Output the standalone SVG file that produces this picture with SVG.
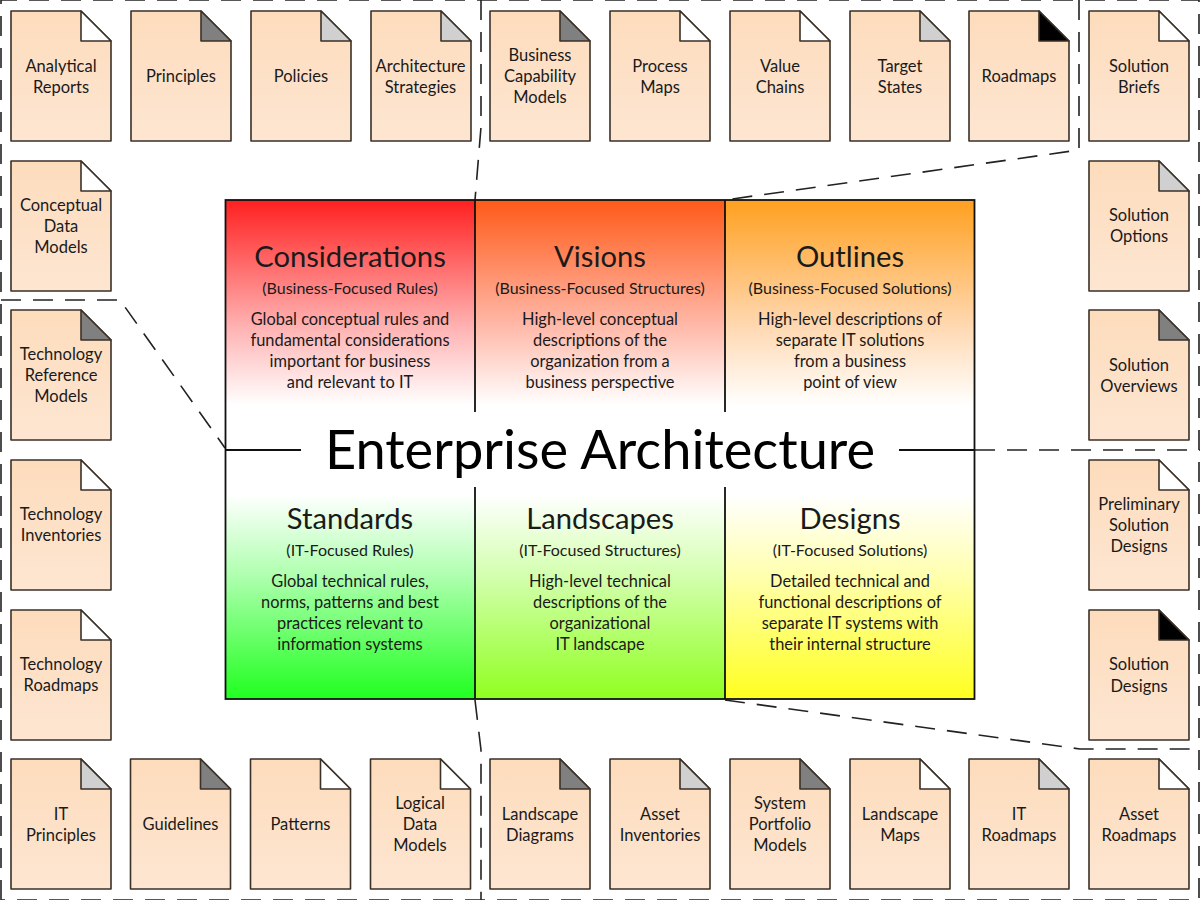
<svg xmlns="http://www.w3.org/2000/svg" width="1200" height="900" viewBox="0 0 1200 900">
<style>
text{font-family:"Lato","Noto Sans","Liberation Sans",sans-serif;fill:#1a1a1a;text-anchor:middle;transform:translateY(.7px)}
.l{font-size:16.5px}
.h{font-size:29.2px}
.u{font-size:16px}
.s{font-size:16.4px}
.t{font-size:54.2px;fill:#000}
.b{fill:url(#doc);stroke:#3a3128;stroke-width:1.6;stroke-linejoin:round}
.f{stroke:#3a3128;stroke-width:1.6;stroke-linejoin:round}
.w{fill:#fff}.g{fill:#808080}.c{fill:#d0d0d0}.k{fill:#000}
.d{fill:none;stroke:#222;stroke-width:1.6;stroke-dasharray:20 12}
.m{fill:none;stroke:#111;stroke-width:1.8}
</style>
<defs>
<linearGradient id="doc" x1="0" y1="0" x2="0" y2="1"><stop offset="0" stop-color="#fddcbc"/><stop offset="1" stop-color="#fde6d2"/></linearGradient>
<linearGradient id="r" x1="0" y1="0" x2="0" y2="1"><stop offset="0" stop-color="#ff2020"/><stop offset="0.5" stop-color="#ffb0b0"/><stop offset="0.82" stop-color="#fff"/></linearGradient>
<linearGradient id="o" x1="0" y1="0" x2="0" y2="1"><stop offset="0" stop-color="#ff5a18"/><stop offset="0.5" stop-color="#ffb8a8"/><stop offset="0.82" stop-color="#fff"/></linearGradient>
<linearGradient id="a" x1="0" y1="0" x2="0" y2="1"><stop offset="0" stop-color="#ffa020"/><stop offset="0.5" stop-color="#ffd8b0"/><stop offset="0.82" stop-color="#fff"/></linearGradient>
<linearGradient id="gn" x1="0" y1="0" x2="0" y2="1"><stop offset="0.18" stop-color="#fff"/><stop offset="0.5" stop-color="#b0ffb0"/><stop offset="1" stop-color="#20ff20"/></linearGradient>
<linearGradient id="lm" x1="0" y1="0" x2="0" y2="1"><stop offset="0.18" stop-color="#fff"/><stop offset="0.5" stop-color="#d4ffb0"/><stop offset="1" stop-color="#90ff20"/></linearGradient>
<linearGradient id="y" x1="0" y1="0" x2="0" y2="1"><stop offset="0.18" stop-color="#fff"/><stop offset="0.5" stop-color="#ffffb0"/><stop offset="1" stop-color="#ffff20"/></linearGradient>
<path id="dp" class="b" d="M0 0H70L100 30V130H0Z"/>
</defs>
<g id="connectors">
<path class="d" d="M1 900V0H1199V900H1Z"/>
<path class="d" d="M481 0V127L475 200"/>
<path class="d" d="M1079 0V150L725 200"/>
<path class="d" d="M1 300H120L225 448"/>
<path class="d" d="M975 450H1200"/>
<path class="d" d="M725 700L1080 749H1200"/>
<path class="d" d="M475 700L481 750V900"/>
</g>
<g id="matrix">
<rect x="226" y="200" width="249" height="250" fill="url(#r)"/>
<rect x="475" y="200" width="250" height="250" fill="url(#o)"/>
<rect x="725" y="200" width="249" height="250" fill="url(#a)"/>
<rect x="226" y="450" width="249" height="249" fill="url(#gn)"/>
<rect x="475" y="450" width="250" height="249" fill="url(#lm)"/>
<rect x="725" y="450" width="249" height="249" fill="url(#y)"/>
<rect class="m" x="225.500" y="200" width="749" height="499"/>
<path class="m" d="M475 200V412M725 200V412M475 487V699M725 487V699M226 450H301M899 450H975"/>
<text class="t" x="600" y="468">Enterprise Architecture</text>
</g>
<g id="cell-considerations"><text class="h" x="350" y="266">Considerations</text><text class="u" x="350" y="293">(Business-Focused Rules)</text><text class="s" x="350" y="324">Global conceptual rules and</text><text class="s" x="350" y="345">fundamental considerations</text><text class="s" x="350" y="366">important for business</text><text class="s" x="350" y="387">and relevant to IT</text></g>
<g id="cell-visions"><text class="h" x="600" y="266">Visions</text><text class="u" x="600" y="293">(Business-Focused Structures)</text><text class="s" x="600" y="324">High-level conceptual</text><text class="s" x="600" y="345">descriptions of the</text><text class="s" x="600" y="366">organization from a</text><text class="s" x="600" y="387">business perspective</text></g>
<g id="cell-outlines"><text class="h" x="850" y="266">Outlines</text><text class="u" x="850" y="293">(Business-Focused Solutions)</text><text class="s" x="850" y="324">High-level descriptions of</text><text class="s" x="850" y="345">separate IT solutions</text><text class="s" x="850" y="366">from a business</text><text class="s" x="850" y="387">point of view</text></g>
<g id="cell-standards"><text class="h" x="350" y="528">Standards</text><text class="u" x="350" y="555">(IT-Focused Rules)</text><text class="s" x="350" y="586">Global technical rules,</text><text class="s" x="350" y="607">norms, patterns and best</text><text class="s" x="350" y="628">practices relevant to</text><text class="s" x="350" y="649">information systems</text></g>
<g id="cell-landscapes"><text class="h" x="600" y="528">Landscapes</text><text class="u" x="600" y="555">(IT-Focused Structures)</text><text class="s" x="600" y="586">High-level technical</text><text class="s" x="600" y="607">descriptions of the</text><text class="s" x="600" y="628">organizational</text><text class="s" x="600" y="649">IT landscape</text></g>
<g id="cell-designs"><text class="h" x="850" y="528">Designs</text><text class="u" x="850" y="555">(IT-Focused Solutions)</text><text class="s" x="850" y="586">Detailed technical and</text><text class="s" x="850" y="607">functional descriptions of</text><text class="s" x="850" y="628">separate IT systems with</text><text class="s" x="850" y="649">their internal structure</text></g>
<g id="n01" transform="translate(11,11)"><use href="#dp"/><path class="f w" d="M70 0V30H100Z"/><text class="l" x="50" y="60">Analytical</text><text class="l" x="50" y="81">Reports</text></g>
<g id="n02" transform="translate(131,11)"><use href="#dp"/><path class="f g" d="M70 0V30H100Z"/><text class="l" x="50" y="70">Principles</text></g>
<g id="n03" transform="translate(251,11)"><use href="#dp"/><path class="f c" d="M70 0V30H100Z"/><text class="l" x="50" y="70">Policies</text></g>
<g id="n04" transform="translate(371,11)"><use href="#dp"/><path class="f c" d="M70 0V30H100Z"/><text class="l" x="49.500" y="60">Architecture</text><text class="l" x="49.500" y="81">Strategies</text></g>
<g id="n05" transform="translate(490,11)"><use href="#dp"/><path class="f g" d="M70 0V30H100Z"/><text class="l" x="50" y="49">Business</text><text class="l" x="50" y="70">Capability</text><text class="l" x="50" y="91">Models</text></g>
<g id="n06" transform="translate(610,11)"><use href="#dp"/><path class="f w" d="M70 0V30H100Z"/><text class="l" x="50" y="60">Process</text><text class="l" x="50" y="81">Maps</text></g>
<g id="n07" transform="translate(730,11)"><use href="#dp"/><path class="f w" d="M70 0V30H100Z"/><text class="l" x="50" y="60">Value</text><text class="l" x="50" y="81">Chains</text></g>
<g id="n08" transform="translate(850,11)"><use href="#dp"/><path class="f c" d="M70 0V30H100Z"/><text class="l" x="50" y="60">Target</text><text class="l" x="50" y="81">States</text></g>
<g id="n09" transform="translate(969,11)"><use href="#dp"/><path class="f k" d="M70 0V30H100Z"/><text class="l" x="50" y="70">Roadmaps</text></g>
<g id="n10" transform="translate(1089,11)"><use href="#dp"/><path class="f w" d="M70 0V30H100Z"/><text class="l" x="50" y="60">Solution</text><text class="l" x="50" y="81">Briefs</text></g>
<g id="n11" transform="translate(1089,161)"><use href="#dp"/><path class="f c" d="M70 0V30H100Z"/><text class="l" x="50" y="59">Solution</text><text class="l" x="50" y="80">Options</text></g>
<g id="n12" transform="translate(1089,310)"><use href="#dp"/><path class="f g" d="M70 0V30H100Z"/><text class="l" x="50" y="60">Solution</text><text class="l" x="50" y="81">Overviews</text></g>
<g id="n13" transform="translate(1089,460)"><use href="#dp"/><path class="f w" d="M70 0V30H100Z"/><text class="l" x="50" y="49">Preliminary</text><text class="l" x="50" y="70">Solution</text><text class="l" x="50" y="91">Designs</text></g>
<g id="n14" transform="translate(1089,610)"><use href="#dp"/><path class="f k" d="M70 0V30H100Z"/><text class="l" x="50" y="59">Solution</text><text class="l" x="50" y="81">Designs</text></g>
<g id="n15" transform="translate(1089,759)"><use href="#dp"/><path class="f w" d="M70 0V30H100Z"/><text class="l" x="50" y="60">Asset</text><text class="l" x="50" y="81">Roadmaps</text></g>
<g id="n16" transform="translate(969,759)"><use href="#dp"/><path class="f c" d="M70 0V30H100Z"/><text class="l" x="50" y="60">IT</text><text class="l" x="50" y="81">Roadmaps</text></g>
<g id="n17" transform="translate(850,759)"><use href="#dp"/><path class="f w" d="M70 0V30H100Z"/><text class="l" x="50" y="60">Landscape</text><text class="l" x="50" y="81">Maps</text></g>
<g id="n18" transform="translate(730,759)"><use href="#dp"/><path class="f g" d="M70 0V30H100Z"/><text class="l" x="50" y="49">System</text><text class="l" x="50" y="70">Portfolio</text><text class="l" x="50" y="91">Models</text></g>
<g id="n19" transform="translate(610,759)"><use href="#dp"/><path class="f c" d="M70 0V30H100Z"/><text class="l" x="50" y="60">Asset</text><text class="l" x="50" y="81">Inventories</text></g>
<g id="n20" transform="translate(490,759)"><use href="#dp"/><path class="f g" d="M70 0V30H100Z"/><text class="l" x="50" y="60">Landscape</text><text class="l" x="50" y="81">Diagrams</text></g>
<g id="n21" transform="translate(370.500,759)"><use href="#dp"/><path class="f w" d="M70 0V30H100Z"/><text class="l" x="49.500" y="49">Logical</text><text class="l" x="49.500" y="70">Data</text><text class="l" x="49.500" y="91">Models</text></g>
<g id="n22" transform="translate(250.500,759)"><use href="#dp"/><path class="f w" d="M70 0V30H100Z"/><text class="l" x="50" y="70">Patterns</text></g>
<g id="n23" transform="translate(130.500,759)"><use href="#dp"/><path class="f g" d="M70 0V30H100Z"/><text class="l" x="50" y="70">Guidelines</text></g>
<g id="n24" transform="translate(11,759)"><use href="#dp"/><path class="f c" d="M70 0V30H100Z"/><text class="l" x="50" y="60">IT</text><text class="l" x="50" y="81">Principles</text></g>
<g id="n25" transform="translate(11,610)"><use href="#dp"/><path class="f w" d="M70 0V30H100Z"/><text class="l" x="50" y="59">Technology</text><text class="l" x="50" y="80">Roadmaps</text></g>
<g id="n26" transform="translate(11,460)"><use href="#dp"/><path class="f w" d="M70 0V30H100Z"/><text class="l" x="50" y="59">Technology</text><text class="l" x="50" y="80">Inventories</text></g>
<g id="n27" transform="translate(11,310)"><use href="#dp"/><path class="f g" d="M70 0V30H100Z"/><text class="l" x="50" y="49">Technology</text><text class="l" x="50" y="70">Reference</text><text class="l" x="50" y="91">Models</text></g>
<g id="n28" transform="translate(11,161)"><use href="#dp"/><path class="f w" d="M70 0V30H100Z"/><text class="l" x="50" y="49">Conceptual</text><text class="l" x="50" y="70">Data</text><text class="l" x="50" y="91">Models</text></g>
</svg>
